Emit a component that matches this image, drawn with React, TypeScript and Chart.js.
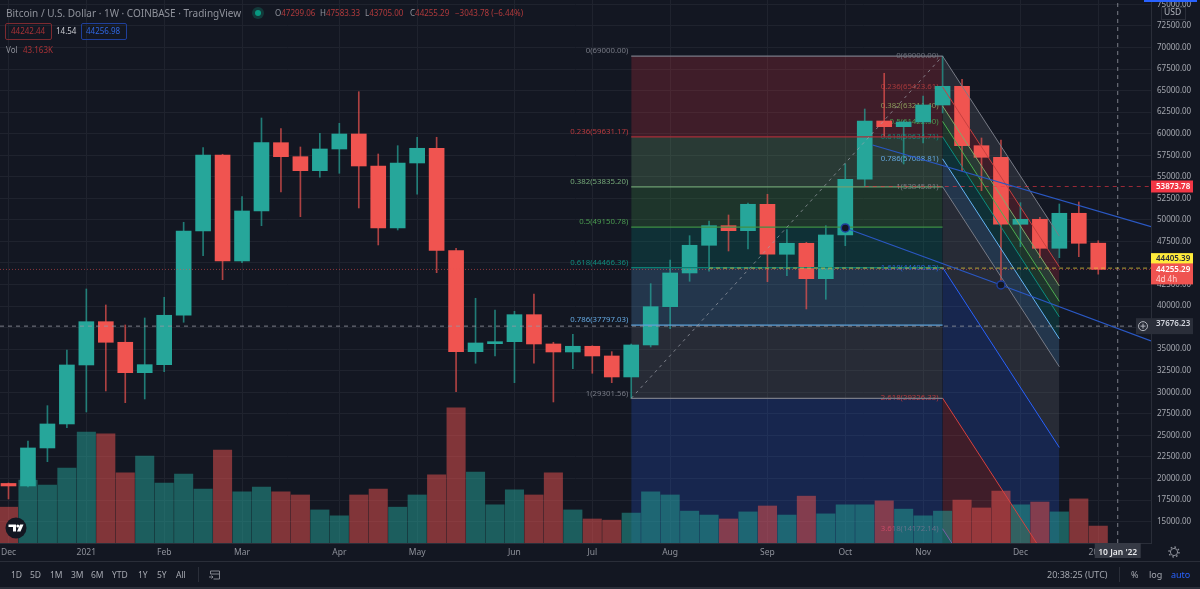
import React, { useEffect, useRef } from "react";
import { Chart, registerables } from "chart.js";

Chart.register(...registerables);

const FONT = '"Noto Sans", sans-serif';
const BG = "#131722";
const TEAL = "#26a69a";
const RED = "#f05450";

// weekly candles, Dec 2020 to Jan 2022
const opens = [19424, 19134, 23542, 26326, 33170, 38193, 35803, 32277, 33205, 38935, 48714, 57530, 45234, 51034, 58957, 57333, 55709, 58226, 59966, 56254, 49062, 56602, 58307, 46452, 34713, 35641, 35873, 39005, 35606, 34678, 35339, 34214, 31778, 35490, 39933, 43842, 47055, 49329, 48749, 51811, 46011, 47287, 43181, 48250, 54711, 61474, 60813, 61358, 63330, 65499, 58609, 57263, 49491, 50071, 46707, 50767, 47299];
const highs = [19482, 24354, 28449, 34910, 41986, 40130, 37810, 38622, 41023, 49723, 58377, 57611, 52693, 61822, 60581, 58458, 60047, 61207, 64873, 57646, 58609, 59583, 59583, 46707, 40907, 39550, 39399, 41406, 35803, 36731, 35400, 34713, 35600, 42601, 45350, 48169, 49874, 50570, 51962, 52971, 48865, 47403, 49329, 56486, 62866, 67007, 61500, 64374, 69000, 66311, 59502, 59270, 51997, 50300, 51846, 52078, 47583];
const lows = [17626, 19018, 21953, 25897, 27718, 30154, 28797, 29226, 32393, 38123, 45849, 43065, 45037, 49329, 53238, 50373, 54943, 55407, 51382, 47090, 48830, 52971, 43877, 30073, 33367, 34214, 31117, 33367, 28878, 32741, 32207, 31117, 29301, 35258, 37381, 42879, 44039, 46394, 46626, 42833, 43529, 39666, 40791, 47009, 53934, 59653, 56486, 58922, 62402, 55674, 53389, 42682, 46893, 45617, 45617, 45733, 43705];
const closes = [19134, 23542, 26326, 33170, 38193, 35803, 32277, 33205, 38935, 48714, 57530, 45234, 51034, 58957, 57333, 55709, 58226, 59966, 56254, 49062, 56602, 58307, 46452, 34713, 35722, 35873, 39005, 35606, 34678, 35339, 34214, 31778, 35490, 39933, 43842, 47055, 49329, 48749, 51811, 46011, 47287, 43181, 48250, 54711, 61474, 60813, 61358, 63330, 65499, 58609, 57263, 49491, 50071, 46707, 50767, 47287, 44255];
// volume in thousands
const volumes = [91, 160, 147, 190, 282, 277, 178, 221, 152, 175, 137, 236, 130, 142, 130, 122, 84, 69, 122, 137, 91, 122, 173, 343, 180, 97, 135, 122, 178, 84, 61, 58, 76, 130, 122, 81, 71, 61, 79, 94, 71, 119, 74, 97, 97, 107, 86, 69, 81, 109, 89, 132, 97, 104, 79, 112, 43];

const monthTicks = [0, 4, 8, 12, 17, 21, 26, 30, 34, 39, 43, 47, 52, 56];
const monthLabels = ["Dec", "2021", "Feb", "Mar", "Apr", "May", "Jun", "Jul", "Aug", "Sep", "Oct", "Nov", "Dec", "2022"];
const priceTicks = [15000, 17500, 20000, 22500, 25000, 27500, 30000, 32500, 35000, 37500, 40000, 42500, 45000, 47500, 50000, 52500, 55000, 57500, 60000, 62500, 65000, 67500, 70000, 72500, 75000];

// retracement tool on the left, parallel fan on the right
const retraceRatios = ["0", "0.236", "0.382", "0.5", "0.618", "0.786", "1"];
const retraceLevels = [69000, 59631.17, 53835.2, 49150.78, 44466.36, 37797.03, 29301.56];
const fanRatios = ["0", "0.236", "0.382", "0.5", "0.618", "0.786", "1", "1.618", "2.618", "3.618"];
const fanLevels = [69000, 65423.61, 63211.4, 61422.9, 59634.71, 57088.81, 53845.81, 44480.52, 29326.33, 14172.14];
const fanDrop = 20880;
const retraceStart = 32;
const toolBreak = 48;
const fanEnd = 54;

const lastClose = 44255.29;
const yellowLevel = 44405.39;
const redLevel = 53873.78;
const crossPrice = 37676.23;
const crossIndex = 57;
const trendA = [{ x: 43, y: 49062 }, { x: 51, y: 42450 }, { x: 58.71, y: 35954 }];
const trendB = [{ x: 44.4, y: 58690 }, { x: 58.71, y: 49212 }];
const dots = [{ x: 43, y: 49062 }, { x: 51, y: 42450 }];

const xMin = -0.437;
const xMax = 58.71;
const yMin = 12517;
const yMax = 75510;
const volMax = 1379;

const retraceLine = ["#787b86", "#a82f38", "#6f9f72", "#3f8f45", "#0b7f72", "#5aa2dc", "#787b86"];
const retraceText = ["#787b86", "#b83a3e", "#74a878", "#4a9a50", "#0f8a7c", "#64a8e0", "#787b86"];
const retraceFill = ["rgba(242,54,69,.2)", "rgba(129,199,132,.2)", "rgba(76,175,80,.2)", "rgba(0,150,136,.2)", "rgba(100,181,246,.2)", "rgba(120,123,134,.2)", "rgba(41,98,255,.2)"];
const fanLine = ["#787b86", "#c8403f", "#81a86a", "#4caf50", "#0b8f80", "#64b5f6", "#787b86", "#2962ff", "#d8413f", "#7a5fa8"];
const fanText = ["#6b6e78", "#a83a3c", "#8a9a5a", "#4a9a50", "#0f8a7c", "#64a8e0", "#787b86", "#2a5fd8", "#b83a3e", "#a0407a"];
const fanFill = ["rgba(120,123,134,.2)", "rgba(242,54,69,.2)", "rgba(129,199,132,.2)", "rgba(76,175,80,.2)", "rgba(0,150,136,.2)", "rgba(100,181,246,.2)", "rgba(120,123,134,.2)", "rgba(41,98,255,.2)", "rgba(242,54,69,.2)", "rgba(0,0,0,0)"];

const isUp = (i: number) => closes[i] >= opens[i];

// filled bands first, each one fills down to the dataset after it
const bandDatasets = () => {
  const out: any[] = [];
  retraceLevels.forEach((level, i) => {
    out.push({
      type: "line",
      data: [{ x: retraceStart, y: level }, { x: toolBreak, y: level }],
      borderColor: retraceLine[i],
      borderWidth: 1.2,
      backgroundColor: retraceFill[i],
      fill: "+1",
      pointRadius: 0,
      order: 3,
    });
  });
  out.push({
    type: "line",
    data: [{ x: retraceStart, y: yMin }, { x: toolBreak, y: yMin }],
    borderWidth: 0,
    pointRadius: 0,
    order: 3,
  });
  fanLevels.forEach((level, i) => {
    out.push({
      type: "line",
      data: [{ x: toolBreak, y: level }, { x: fanEnd, y: level - fanDrop }],
      borderColor: fanLine[i],
      borderWidth: 1,
      backgroundColor: fanFill[i],
      fill: i < fanLevels.length - 1 ? "+1" : false,
      pointRadius: 0,
      order: 3,
    });
  });
  return out;
};

const flatLine = (y: number, x0: number, color: string, dash: number[], width = 1) => ({
  type: "line",
  data: [{ x: x0, y }, { x: xMax, y }],
  borderColor: color,
  borderWidth: width,
  borderDash: dash,
  pointRadius: 0,
  order: 2,
});

const drawTag = (ctx: any, text: string, y: number, h: number, bg: string, fg: string) => {
  ctx.fillStyle = bg;
  ctx.fillRect(1151, y, 42, h);
  ctx.fillStyle = fg;
  ctx.font = `600 8px ${FONT}`;
  ctx.textAlign = "left";
  ctx.textBaseline = "middle";
  ctx.fillText(text, 1156, y + 6);
};

const overlay = {
  id: "overlay",
  // level labels sit under the candles
  beforeDatasetsDraw(chart: any) {
    const { ctx, scales } = chart;
    const xs = scales.x;
    const ys = scales.y;
    ctx.save();
    ctx.font = `7.8px ${FONT}`;
    ctx.textAlign = "right";
    ctx.textBaseline = "middle";
    retraceLevels.forEach((level, i) => {
      ctx.fillStyle = retraceText[i];
      const label = `${retraceRatios[i]}(${level.toFixed(2)})`;
      ctx.fillText(label, xs.getPixelForValue(retraceStart) - 3, ys.getPixelForValue(level) - 5);
    });
    fanLevels.forEach((level, i) => {
      ctx.fillStyle = fanText[i];
      const label = `${fanRatios[i]}(${level.toFixed(2)})`;
      ctx.fillText(label, xs.getPixelForValue(toolBreak) - 4, ys.getPixelForValue(level));
    });
    ctx.restore();
  },
  afterDraw(chart: any) {
    const { ctx, scales } = chart;
    const ys = scales.y;
    const xs = scales.x;
    ctx.save();
    drawTag(ctx, redLevel.toFixed(2), ys.getPixelForValue(redLevel) - 6, 12, "#f23645", "#ffffff");
    drawTag(ctx, yellowLevel.toFixed(2), ys.getPixelForValue(yellowLevel) - 15, 11, "#ffeb3b", "#2a2e39");
    const closeY = ys.getPixelForValue(lastClose);
    drawTag(ctx, lastClose.toFixed(2), closeY - 6, 21, "#ef5350", "#ffffff");
    ctx.fillStyle = "#ffd2d0";
    ctx.font = `8px ${FONT}`;
    ctx.fillText("4d 4h", 1156, closeY + 10);
    drawTag(ctx, crossPrice.toFixed(2), ys.getPixelForValue(crossPrice) - 8, 16, "#2a2e39", "#d1d4dc");

    // add-alert button next to the crosshair price
    const py = ys.getPixelForValue(crossPrice);
    ctx.fillStyle = "#2a2e39";
    ctx.fillRect(1136, py - 8, 15, 16);
    ctx.strokeStyle = "#b2b5be";
    ctx.lineWidth = 1;
    ctx.beginPath();
    ctx.arc(1143, py, 4.5, 0, Math.PI * 2);
    ctx.moveTo(1140.5, py);
    ctx.lineTo(1145.5, py);
    ctx.moveTo(1143, py - 2.5);
    ctx.lineTo(1143, py + 2.5);
    ctx.stroke();

    // crosshair date
    const cx = xs.getPixelForValue(crossIndex);
    ctx.fillStyle = "#363a45";
    ctx.fillRect(cx - 23, 543, 46, 15);
    ctx.fillStyle = "#e8e9ec";
    ctx.font = `600 8.5px ${FONT}`;
    ctx.textAlign = "center";
    ctx.textBaseline = "middle";
    ctx.fillText("10 Jan '22", cx, 553);

    // currency button on the axis
    ctx.fillStyle = BG;
    ctx.fillRect(1161, 7, 25, 12);
    ctx.strokeStyle = "#2a2e39";
    ctx.strokeRect(1161.5, 7.5, 24, 12);
    ctx.fillStyle = "#b2b5be";
    ctx.font = `8.5px ${FONT}`;
    ctx.textAlign = "left";
    ctx.fillText("USD", 1164, 13);
    ctx.restore();
  },
};

const Label = ({ x, y, c, s = 8, w, children }: any) => (
  <span
    style={{
      position: "absolute",
      left: x,
      top: y - 8,
      lineHeight: "16px",
      fontSize: s,
      fontWeight: w,
      color: c,
      fontFamily: FONT,
      whiteSpace: "nowrap",
    }}
  >
    {children}
  </span>
);

const App = () => {
  const canvasRef = useRef<HTMLCanvasElement>(null);

  useEffect(() => {
    if (!canvasRef.current) return;
    const index = opens.map((_, i) => i);
    const candleColors = index.map((i) => (isUp(i) ? TEAL : RED));
    const wickColors = index.map((i) => (isUp(i) ? "rgba(38,166,154,.7)" : "rgba(240,84,80,.7)"));
    const volColors = index.map((i) => (isUp(i) ? "rgba(38,166,154,.5)" : "rgba(239,83,80,.5)"));

    const chart = new Chart(canvasRef.current, {
      type: "bar",
      data: {
        datasets: [
          ...bandDatasets(),
          {
            type: "bar",
            yAxisID: "vol",
            data: index.map((i) => ({ x: i, y: volumes[i] })),
            backgroundColor: volColors,
            barThickness: 18.4,
            grouped: false,
            order: 6,
          },
          {
            type: "bar",
            data: index.map((i) => ({ x: i, y: [lows[i], highs[i]] })),
            backgroundColor: wickColors,
            barThickness: 1,
            grouped: false,
            order: 5,
          },
          {
            type: "bar",
            data: index.map((i) => ({ x: i, y: [opens[i], closes[i]] })),
            backgroundColor: candleColors,
            barThickness: 15,
            grouped: false,
            order: 4,
          },
          {
            type: "line",
            data: [{ x: retraceStart, y: retraceLevels[6] }, { x: toolBreak, y: retraceLevels[0] }],
            borderColor: "rgba(160,163,172,.7)",
            borderWidth: 1,
            borderDash: [3, 4],
            pointRadius: 0,
            order: 2,
          },
          flatLine(lastClose, xMin, "rgba(239,83,80,.55)", [1, 2]),
          flatLine(yellowLevel, 36, "rgba(235,205,60,.75)", [4, 3]),
          flatLine(redLevel, 44, "rgba(242,54,69,.6)", [4, 4]),
          flatLine(crossPrice, xMin, "rgba(150,153,162,.8)", [4, 4]),
          {
            type: "line",
            data: [{ x: crossIndex, y: yMin }, { x: crossIndex, y: yMax }],
            borderColor: "rgba(150,153,162,.8)",
            borderWidth: 1,
            borderDash: [4, 4],
            pointRadius: 0,
            order: 2,
          },
          { type: "line", data: trendA, borderColor: "#2a58c4", borderWidth: 1.2, pointRadius: 0, order: 1 },
          { type: "line", data: trendB, borderColor: "#2a58c4", borderWidth: 1.2, pointRadius: 0, order: 1 },
          {
            type: "line",
            data: dots,
            showLine: false,
            pointRadius: 4,
            pointBackgroundColor: "#131722",
            pointBorderColor: "#1f3f9a",
            pointBorderWidth: 1.5,
            order: 0,
          },
        ] as any,
      },
      plugins: [overlay],
      options: {
        responsive: false,
        animation: false,
        // no automatic inset, the plot has to reach the canvas edge
        layout: { autoPadding: false, padding: { bottom: 28 } },
        plugins: {
          legend: { display: false },
          tooltip: { enabled: false },
          filler: { drawTime: "beforeDatasetsDraw" },
        } as any,
        scales: {
          x: {
            type: "linear",
            offset: false,
            min: xMin,
            max: xMax,
            grid: { color: "#1f232e", drawTicks: false, offset: false },
            border: { color: "#2a2e39" },
            afterBuildTicks: (scale: any) => {
              scale.ticks = monthTicks.map((value) => ({ value }));
            },
            afterFit: (scale: any) => {
              scale.height = 18;
              scale.paddingLeft = 0;
              scale.paddingRight = 0;
            },
            ticks: {
              autoSkip: false,
              maxRotation: 0,
              padding: 4,
              color: "#8f929b",
              font: { family: FONT, size: 8.5 },
              callback: (value: any) => monthLabels[monthTicks.indexOf(value)] ?? "",
            },
          },
          y: {
            type: "linear",
            position: "right",
            min: yMin,
            max: yMax,
            grid: { color: "#1f232e", drawTicks: false },
            border: { color: "#2a2e39" },
            afterBuildTicks: (scale: any) => {
              scale.ticks = priceTicks.map((value) => ({ value }));
            },
            afterFit: (scale: any) => {
              scale.width = 49;
              scale.paddingTop = 0;
              scale.paddingBottom = 0;
            },
            ticks: {
              padding: 6,
              color: "#a5a8b0",
              font: { family: FONT, size: 8 },
              callback: (value: any) => Number(value).toFixed(2),
            },
          },
          vol: { type: "linear", display: false, min: 0, max: volMax },
        },
      } as any,
    });

    return () => chart.destroy();
  }, []);

  return (
    <div style={{ position: "absolute", left: 0, top: 0, width: 1200, height: 589, background: BG, overflow: "hidden" }}>
      <canvas ref={canvasRef} width={1200} height={589} style={{ display: "block" }} />

      {/* legend block */}
      <Label x={6} y={13} c="#8f929b" s={10}>Bitcoin / U.S. Dollar · 1W · COINBASE · TradingView</Label>
      <div style={{ position: "absolute", left: 252, top: 7, width: 12, height: 12, borderRadius: 6, background: "#123a3a" }} />
      <div style={{ position: "absolute", left: 255, top: 10, width: 6, height: 6, borderRadius: 3, background: "#089981" }} />
      <Label x={275} y={13} c="#8f929b">O<span style={{ color: "#b03a3c" }}>47299.06</span></Label>
      <Label x={320} y={13} c="#8f929b">H<span style={{ color: "#b03a3c" }}>47583.33</span></Label>
      <Label x={365} y={13} c="#8f929b">L<span style={{ color: "#b03a3c" }}>43705.00</span></Label>
      <Label x={410} y={13} c="#8f929b">C<span style={{ color: "#b03a3c" }}>44255.29</span></Label>
      <Label x={455} y={13} c="#b03a3c">−3043.78 (−6.44%)</Label>
      <div style={{ position: "absolute", left: 5, top: 23, width: 45, height: 15, border: "1px solid #7c2a30", borderRadius: 2 }} />
      <Label x={11} y={31} c="#a83236">44242.44</Label>
      <Label x={56} y={31} c="#c8cad0">14.54</Label>
      <div style={{ position: "absolute", left: 81, top: 23, width: 44, height: 15, border: "1px solid #1f3f9a", borderRadius: 2 }} />
      <Label x={86} y={31} c="#2f66e0">44256.98</Label>
      <Label x={6} y={50} c="#8f929b">Vol</Label>
      <Label x={23} y={50} c="#a83236">43.163K</Label>

      {/* TradingView badge */}
      <svg style={{ position: "absolute", left: 5, top: 517 }} width={22} height={22}>
        <circle cx={11} cy={11} r={10.5} fill="#131722" />
        <path d="M3.5 7.5h7.5v7h-3v-4.5h-4.5z" fill="#fff" />
        <circle cx={12.8} cy={9} r={1.5} fill="#fff" />
        <path d="M15 7.5h3.5l-3 7h-3.5z" fill="#fff" />
      </svg>

      {/* settings gear */}
      <svg style={{ position: "absolute", left: 1167, top: 545 }} width={14} height={14}>
        <circle cx={7} cy={7} r={3.6} fill="none" stroke="#8f929b" strokeWidth={1} />
        <circle cx={7} cy={7} r={5} fill="none" stroke="#8f929b" strokeWidth={1.4} strokeDasharray="1.6 2.3" />
      </svg>

      {/* bottom toolbar */}
      <div style={{ position: "absolute", left: 0, top: 561, width: 1200, height: 1, background: "#2a2e39" }} />
      <div style={{ position: "absolute", left: 0, top: 587, width: 1200, height: 2, background: "#2a2e39" }} />
      <Label x={11} y={575} c="#a5a8b0" s={8.5}>1D</Label>
      <Label x={30} y={575} c="#a5a8b0" s={8.5}>5D</Label>
      <Label x={50} y={575} c="#a5a8b0" s={8.5}>1M</Label>
      <Label x={71} y={575} c="#a5a8b0" s={8.5}>3M</Label>
      <Label x={91} y={575} c="#a5a8b0" s={8.5}>6M</Label>
      <Label x={112} y={575} c="#a5a8b0" s={8.5}>YTD</Label>
      <Label x={138} y={575} c="#a5a8b0" s={8.5}>1Y</Label>
      <Label x={157} y={575} c="#a5a8b0" s={8.5}>5Y</Label>
      <Label x={176} y={575} c="#a5a8b0" s={8.5}>All</Label>
      <div style={{ position: "absolute", left: 198, top: 567, width: 1, height: 15, background: "#2a2e39" }} />
      <svg style={{ position: "absolute", left: 209, top: 569 }} width={12} height={12}>
        <path d="M1.5 5V2h9v8h-6M1.5 5h9M0 8h4l-1.5-1.5M4 8l-1.5 1.5" fill="none" stroke="#8f929b" strokeWidth={0.9} />
      </svg>
      <Label x={1047} y={575} c="#a5a8b0" s={9}>20:38:25 (UTC)</Label>
      <div style={{ position: "absolute", left: 1119, top: 567, width: 1, height: 15, background: "#2a2e39" }} />
      <Label x={1131} y={575} c="#a5a8b0" s={9}>%</Label>
      <Label x={1149} y={575} c="#a5a8b0" s={9}>log</Label>
      <Label x={1171} y={575} c="#2962ff" s={9}>auto</Label>
      <div style={{ position: "absolute", left: 1144, top: 0, width: 53, height: 1.5, background: "#2962ff" }} />
    </div>
  );
};

export default App;
